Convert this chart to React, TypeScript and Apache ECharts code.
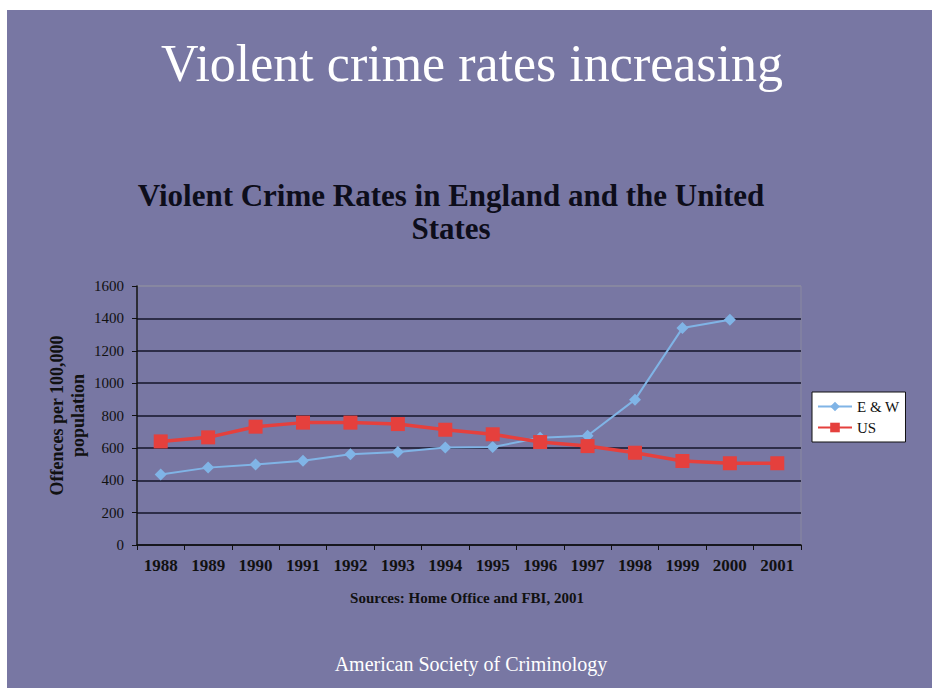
import React, { useEffect, useRef } from "react";
import * as echarts from "echarts";

const years = ["1988", "1989", "1990", "1991", "1992", "1993", "1994", "1995", "1996", "1997", "1998", "1999", "2000", "2001"];
const ewRates = [435, 478, 497, 520, 560, 575, 602, 605, 662, 675, 898, 1340, 1392, null];
const usRates = [640, 665, 731, 756, 756, 747, 712, 684, 636, 611, 570, 519, 505, 505];

const slideTitle = "Violent crime rates increasing";
const chartTitle = "Violent Crime Rates in England and the United\nStates";
const yAxisName = "Offences per 100,000\npopulation";
const sourceNote = "Sources: Home Office and FBI, 2001";
const footer = "American Society of Criminology";

const SERIF = "'Liberation Serif', 'Times New Roman', serif";

export default function App() {
  const ref = useRef<HTMLDivElement>(null);
  useEffect(() => {
    if (!ref.current) return;
    const chart = echarts.init(ref.current, null, { renderer: "svg" });
    const gridColors = ["#15152a", "#15152a", "#15152a", "#15152a", "#15152a", "#15152a", "#15152a", "#15152a", "#8a8aa0"];
    chart.setOption({
      animation: false,
      backgroundColor: "transparent",
      textStyle: { fontFamily: SERIF },
      title: [
        {
          text: slideTitle,
          left: 467,
          top: 32,
          textAlign: "center",
          textStyle: { fontFamily: SERIF, fontSize: 52, fontWeight: "normal", color: "#ffffff" },
        },
        {
          text: chartTitle,
          left: 446,
          top: 174,
          textAlign: "center",
          textStyle: { fontFamily: SERIF, fontSize: 31, fontWeight: "bold", color: "#0d0d1a", lineHeight: 33 },
        },
        {
          text: sourceNote,
          left: 462,
          top: 585,
          textAlign: "center",
          textStyle: { fontFamily: SERIF, fontSize: 15, fontWeight: "bold", color: "#111" },
        },
        {
          text: footer,
          left: 466,
          top: 649,
          textAlign: "center",
          textStyle: { fontFamily: SERIF, fontSize: 20, fontWeight: "normal", color: "#ffffff" },
        },
      ],
      grid: {
        left: 137,
        right: 131,
        top: 286,
        bottom: 143,
        show: true,
        borderColor: "#8a8aa0",
        borderWidth: 1,
        backgroundColor: "transparent",
      },
      legend: {
        orient: "vertical",
        left: 812,
        top: 392,
        padding: [7, 6, 7, 5],
        itemGap: 6,
        itemWidth: 34,
        itemHeight: 12,
        backgroundColor: "#ffffff",
        borderColor: "#111",
        borderWidth: 1,
        borderRadius: 0,
        textStyle: { fontFamily: SERIF, fontSize: 15, color: "#111" },
        data: ["E & W", "US"],
      },
      xAxis: {
        type: "category",
        data: years,
        boundaryGap: true,
        axisLine: { lineStyle: { color: "#111", width: 1.5 } },
        axisTick: { show: true, alignWithLabel: false, length: 5, lineStyle: { color: "#111" } },
        axisLabel: { fontFamily: SERIF, fontSize: 17, fontWeight: "bold", color: "#111", margin: 12 },
        splitLine: { show: false },
      },
      yAxis: {
        type: "value",
        min: 0,
        max: 1600,
        interval: 200,
        name: yAxisName,
        nameLocation: "middle",
        nameGap: 49,
        nameMoveOverlap: false,
        nameRotate: 90,
        nameTextStyle: { fontFamily: SERIF, fontSize: 18, fontWeight: "bold", color: "#111", lineHeight: 21 },
        axisLine: { show: true, lineStyle: { color: "#111", width: 1.5 } },
        axisTick: { show: true, length: 5, lineStyle: { color: "#111" } },
        axisLabel: { fontFamily: SERIF, fontSize: 15, color: "#111", margin: 13, formatter: (v: number) => String(v) },
        splitLine: { show: true, lineStyle: { color: gridColors, width: 1.5 } },
      },
      series: [
        {
          name: "E & W",
          type: "line",
          data: ewRates,
          symbol: "diamond",
          symbolSize: 12,
          itemStyle: { color: "#80b4e6" },
          lineStyle: { color: "#80b4e6", width: 2 },
          connectNulls: false,
          z: 3,
        },
        {
          name: "US",
          type: "line",
          data: usRates,
          symbol: "rect",
          symbolSize: 14,
          itemStyle: { color: "#e5403d" },
          lineStyle: { color: "#e5403d", width: 3.5 },
          z: 4,
        },
      ],
    });
    return () => chart.dispose();
  }, []);

  return (
    <div style={{ position: "absolute", left: 0, top: 0, width: 932, height: 688, background: "#ffffff", overflow: "hidden" }}>
      <div style={{ position: "absolute", left: 7, top: 10, width: 925, height: 678, background: "#7877a3" }} />
      <div ref={ref} style={{ position: "absolute", left: 0, top: 0, width: 932, height: 688 }} />
    </div>
  );
}
